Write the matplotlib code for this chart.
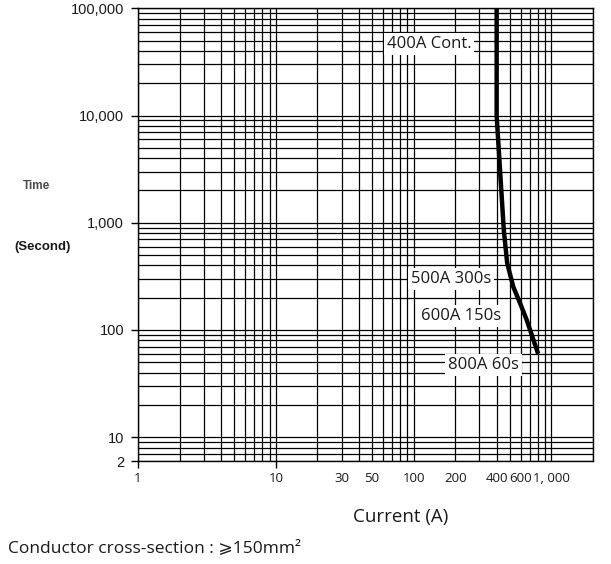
import matplotlib
matplotlib.use('Agg')
import matplotlib.pyplot as plt
from matplotlib.ticker import FixedLocator, FixedFormatter, LogLocator, NullFormatter

# curve
current = [400, 400, 424, 451, 477, 528, 600, 661, 800]
seconds = [100000, 10000, 3000, 850, 420, 253, 170, 124, 60]

x_ticks = [1, 10, 30, 50, 100, 200, 400, 600, 1000]
x_labels = ['1', '10', '30', '50', '100', '200', '400', '600', '1, 000']
y_ticks = [6, 10, 100, 1000, 10000, 100000]
y_labels = ['2', '10', '100', '1,000', '10,000', '100,000']

notes = [('400A Cont.', 129, 46400),
         ('500A 300s', 187, 297),
         ('600A 150s', 220, 135),
         ('800A 60s', 321, 47)]

fig = plt.figure(figsize=(6.11, 5.64), dpi=100)
ax = fig.add_axes([0.2259, 0.1826, 0.7446, 0.8027])
ax.set_xscale('log')
ax.set_yscale('log')
ax.set_xlim(1, 2000)
ax.set_ylim(6, 100000)

ax.xaxis.set_major_locator(FixedLocator(x_ticks))
ax.xaxis.set_major_formatter(FixedFormatter(x_labels))
ax.yaxis.set_major_locator(FixedLocator(y_ticks))
ax.yaxis.set_major_formatter(FixedFormatter(y_labels))
ax.xaxis.set_minor_locator(LogLocator(base=10, subs=range(2, 10), numticks=20))
ax.yaxis.set_minor_locator(LogLocator(base=10, subs=range(2, 10), numticks=20))
ax.xaxis.set_minor_formatter(NullFormatter())
ax.yaxis.set_minor_formatter(NullFormatter())

ax.grid(True, which='both', color='black', lw=0.9)
ax.set_axisbelow(True)
ax.tick_params(which='minor', length=0)
ax.tick_params(which='major', direction='out', length=5, width=1, color='black')
ax.tick_params(axis='x', pad=3)
ax.tick_params(axis='y', pad=5)
for v, t in zip(x_ticks, ax.xaxis.get_major_ticks()):
    if v not in (1, 10):
        t.tick1line.set_visible(False)
for s in ax.spines.values():
    s.set_linewidth(1)

for lab in ax.get_xticklabels():
    lab.set_fontfamily('Open Sans')
    lab.set_fontsize(9.5)
    lab.set_color('#1a1a1a')
for lab in ax.get_yticklabels():
    lab.set_fontfamily('Liberation Sans')
    lab.set_fontsize(10.5)
    lab.set_color('#1a1a1a')

ax.plot(current, seconds, color='black', lw=3.2, solid_capstyle='butt', zorder=3)

for txt, x, y in notes:
    ax.text(x, y, txt, ha='center', va='center', fontsize=12, family='Open Sans',
            color='#1a1a1a', zorder=4,
            bbox=dict(facecolor='white', edgecolor='none', pad=2))

fig.text(0.06, 0.670, 'Time', ha='center', va='center', fontsize=8.5,
         family='Liberation Sans', weight='bold', color='#4a4a4a')
fig.text(0.069, 0.562, '(Second)', ha='center', va='center', fontsize=9.5,
         family='Liberation Sans', weight='bold', color='#1a1a1a')
fig.text(0.655, 0.083, 'Current (A)', ha='center', va='center', fontsize=13.5,
         family='Open Sans', color='#1a1a1a')
fig.text(0.013, 0.027, 'Conductor cross-section : \u2a7e150mm\u00b2', ha='left', va='center',
         fontsize=12.5, family=['Open Sans', 'DejaVu Sans'], color='#1a1a1a')

fig.savefig('out.png', dpi=100)
